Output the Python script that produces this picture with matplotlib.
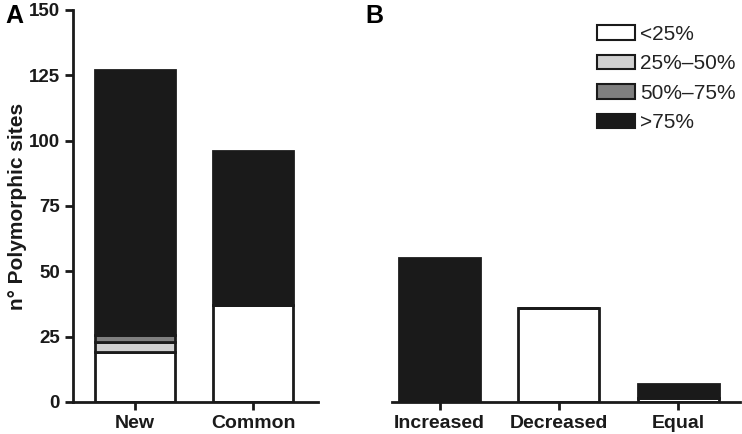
import matplotlib
matplotlib.use("Agg")
import matplotlib.pyplot as plt
from matplotlib.patches import Patch
import numpy as np

plt.rcParams['font.family'] = ['Liberation Sans', 'DejaVu Sans']

# panel A data
cat_a = ['New', 'Common']
lt25 = [19, 37]
p25_50 = [4, 0]
p50_75 = [2.5, 0]
gt75 = [101.5, 59]

# panel B data
cat_b = ['Increased', 'Decreased', 'Equal']
b_white = [0, 36, 1.5]
b_black = [55, 0, 5.5]

labels = ['<25%', '25%\u201350%', '50%\u201375%', '>75%']
colors = ['white', '#d0d0d0', '#7f7f7f', '#1a1a1a']
edge = '#1a1a1a'
lw = 2

fig = plt.figure(figsize=(7.42, 4.34), dpi=100)
W, H = 742, 434
axA = fig.add_axes([73 / W, 32 / H, (318 - 73) / W, 392 / H])
axB = fig.add_axes([392 / W, 32 / H, (740 - 392) / W, 392 / H])

x = np.arange(len(cat_a))
bottom = np.zeros(len(cat_a))
for vals, c in zip([lt25, p25_50, p50_75, gt75], colors):
    v = np.array(vals, dtype=float)
    axA.bar(x, v, 0.68, bottom=bottom, color=c, edgecolor=edge, linewidth=lw)
    bottom += v
axA.set_xlim(-0.525, 1.55)
axA.set_ylim(0, 150)
axA.set_yticks([0, 25, 50, 75, 100, 125, 150])
axA.set_xticks(x)
axA.set_xticklabels(cat_a)
axA.set_ylabel('n\u00b0 Polymorphic sites', fontsize=15, fontweight='bold',
               color='#1a1a1a', labelpad=1)

xb = np.arange(len(cat_b))
axB.bar(xb, b_white, 0.68, color='white', edgecolor=edge, linewidth=lw)
axB.bar(xb, b_black, 0.68, bottom=b_white, color='#1a1a1a', edgecolor=edge, linewidth=lw)
axB.set_xlim(-0.40, 2.52)
axB.set_ylim(0, 150)
axB.set_xticks(xb)
axB.set_xticklabels(cat_b)
axB.set_yticks([])
axB.spines['left'].set_visible(False)

for ax in (axA, axB):
    ax.spines['top'].set_visible(False)
    ax.spines['right'].set_visible(False)
    for s in ('left', 'bottom'):
        ax.spines[s].set_linewidth(2)
        ax.spines[s].set_color('#1a1a1a')
    ax.tick_params(width=2, length=6, color='#1a1a1a')
    ax.tick_params(axis='x', labelsize=14)
    ax.tick_params(axis='y', labelsize=13.5)
    for t in ax.get_xticklabels() + ax.get_yticklabels():
        t.set_fontweight('bold')
        t.set_color('#1a1a1a')

handles = [Patch(facecolor=c, edgecolor=edge, linewidth=1.5) for c in colors]
fig.legend(handles, labels, loc='upper left', bbox_to_anchor=(597 / W, 1 - 25 / H),
           frameon=False, fontsize=15, handlelength=1.8, handleheight=0.7,
           handletextpad=0.25, labelspacing=0.5, borderpad=0, borderaxespad=0,
           labelcolor='#222222')

fig.text(5 / W, 1 - 16 / H, 'A', fontsize=18, fontweight='bold', va='center')
fig.text(365 / W, 1 - 16 / H, 'B', fontsize=18, fontweight='bold', va='center')

fig.savefig('out.png', dpi=100)
